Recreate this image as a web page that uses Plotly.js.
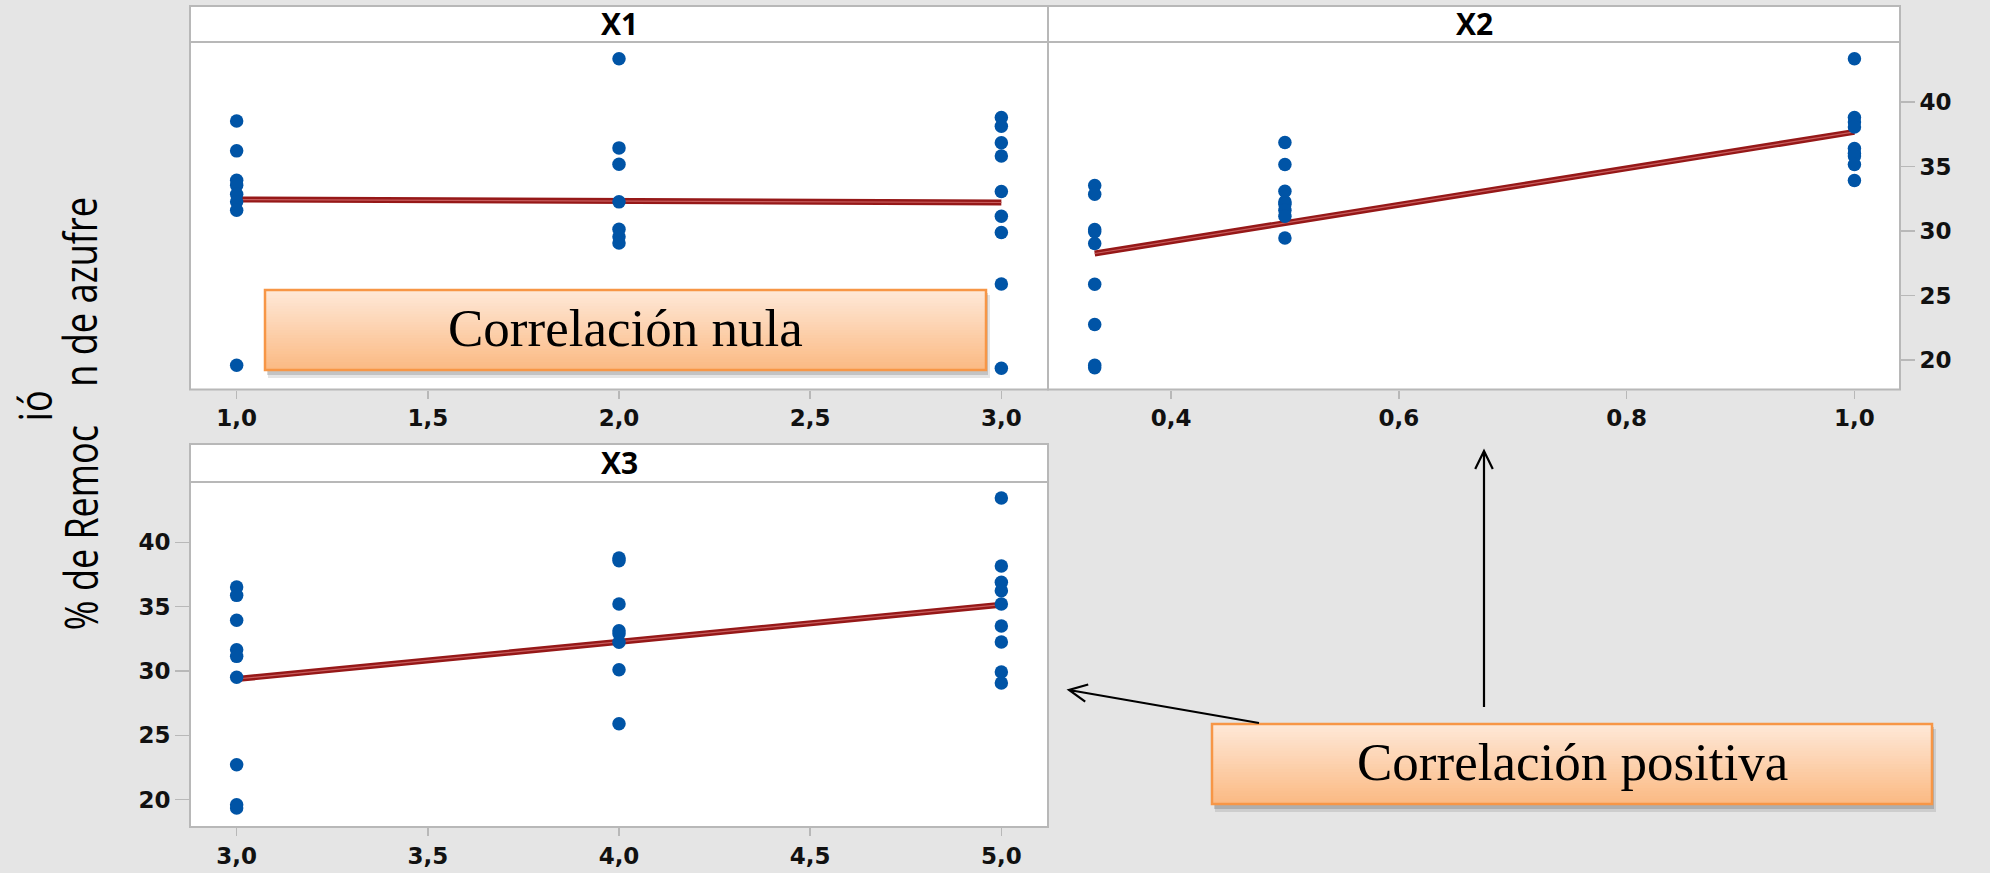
<!DOCTYPE html>
<html>
<head>
<meta charset="utf-8">
<script src="https://cdn.plot.ly/plotly-3.0.1.min.js"></script>
<style>
html,body{margin:0;padding:0;background:#e5e5e5;}
#chart{width:1990px;height:873px;}
</style>
</head>
<body>
<div id="chart"></div>
<script>
// ---------- DATA ----------
const panelTitles = ["X1", "X2", "X3"];

// Panel X1: levels 1, 2, 3
const x1Levels = [1, 2, 3];
const yX1_lvl1 = [38.53, 36.21, 33.94, 33.55, 32.85, 32.26, 31.61, 19.61];
const yX1_lvl2 = [43.35, 36.44, 35.18, 32.26, 30.14, 29.55, 29.08];
const yX1_lvl3 = [38.79, 38.12, 36.83, 35.82, 33.06, 31.15, 29.88, 25.90, 19.38];
const fitX1_x = [1, 3];
const fitX1_y = [32.44, 32.21];

// Panel X2: levels 1/3, 0.5, 1.0
const x2Levels = [0.333, 0.5, 1.0];
const yX2_lvl1 = [33.52, 32.85, 30.12, 29.94, 29.03, 25.88, 22.76, 19.61, 19.41];
const yX2_lvl2 = [36.85, 35.15, 33.08, 32.26, 32.08, 31.61, 31.15, 29.47];
const yX2_lvl3 = [43.35, 38.79, 38.45, 38.06, 36.39, 36.00, 35.82, 35.15, 33.91];
const fitX2_x = [0.333, 1.0];
const fitX2_y = [28.26, 37.68];

// Panel X3: levels 3, 4, 5
const x3Levels = [3, 4, 5];
const yX3_lvl1 = [36.53, 35.88, 33.94, 31.66, 31.14, 29.51, 22.72, 19.61, 19.35];
const yX3_lvl2 = [38.78, 38.58, 35.21, 33.13, 32.90, 32.23, 30.10, 25.91];
const yX3_lvl3 = [43.45, 38.16, 36.89, 36.24, 35.21, 33.50, 32.25, 29.92, 29.07];
const fitX3_x = [3, 5];
const fitX3_y = [29.38, 35.16];

const yTicks = [20, 25, 30, 35, 40];
const x1Ticks = [1.0, 1.5, 2.0, 2.5, 3.0];
const x2Ticks = [0.4, 0.6, 0.8, 1.0];
const x3Ticks = [3.0, 3.5, 4.0, 4.5, 5.0];

const yTitleA = "% de Remoc";
const yTitleB = "n de azufre";
const yTitleMid = "ió";
const calloutNull = "Correlación nula";
const calloutPos = "Correlación positiva";

// ---------- helpers ----------
const W = 1990, H = 873;
const px = x => x / W;
const py = y => 1 - y / H;

const DOT = '#0054a6';
function dots(levels, groups, xa, ya) {
  const xs = [], ys = [];
  groups.forEach((g, i) => g.forEach(v => { xs.push(levels[i]); ys.push(v); }));
  return {type: 'scatter', mode: 'markers', x: xs, y: ys, xaxis: xa, yaxis: ya,
          marker: {color: DOT, size: 13.5, line: {width: 0}}, hoverinfo: 'skip', showlegend: false};
}
function fit(xv, yv, xa, ya) {
  return [
    {type: 'scatter', mode: 'lines', x: xv, y: yv, xaxis: xa, yaxis: ya,
     line: {color: '#961818', width: 6}, hoverinfo: 'skip', showlegend: false},
    {type: 'scatter', mode: 'lines', x: xv, y: yv, xaxis: xa, yaxis: ya,
     line: {color: '#c85e5e', width: 1.2}, hoverinfo: 'skip', showlegend: false}
  ];
}

const data = [
  ...fit(fitX1_x, fitX1_y, 'x', 'y'),
  dots(x1Levels, [yX1_lvl1, yX1_lvl2, yX1_lvl3], 'x', 'y'),
  ...fit(fitX2_x, fitX2_y, 'x2', 'y2'),
  dots(x2Levels, [yX2_lvl1, yX2_lvl2, yX2_lvl3], 'x2', 'y2'),
  ...fit(fitX3_x, fitX3_y, 'x3', 'y3'),
  dots(x3Levels, [yX3_lvl1, yX3_lvl2, yX3_lvl3], 'x3', 'y3'),
];

// ---------- geometry ----------
const L = 190, M = 1048, R = 1900;
const topStrip = [6, 42], topPlotBottom = 389.5;
const botStrip = [444, 482], botPlotBottom = 827;

const tickFont = {family: 'DejaVu Sans', size: 23, color: '#111', weight: 'bold'};
const GRAY = '#b8b8b8';

function xAxis(domain, range, ticks, anchor) {
  return {domain, range, anchor, tickvals: ticks, tickformat: '.1f', ticks: 'outside', ticklen: 8,
          tickcolor: GRAY, tickwidth: 1.5, showline: false, zeroline: false, showgrid: false,
          tickfont: tickFont, fixedrange: true};
}
function yAxis(domain, range, anchor, side, show) {
  return {domain, range, anchor, side, tickvals: yTicks, ticks: show ? 'outside' : '', ticklen: 14,
          tickcolor: GRAY, tickwidth: 1.5, showticklabels: show, showline: false, zeroline: false,
          showgrid: false, tickfont: tickFont, fixedrange: true};
}

const yTopDom = [py(topPlotBottom), py(topStrip[1])];
const yBotDom = [py(botPlotBottom), py(botStrip[1])];
const yRange = [17.73, 44.64];
const yRange3 = [17.88, 44.69];

const shapes = [];
function rect(x0, y0, x1, y1, opts) {
  shapes.push(Object.assign({type: 'rect', xref: 'paper', yref: 'paper',
    x0: px(x0), x1: px(x1), y0: py(y1), y1: py(y0)}, opts));
}
// strips
rect(L, topStrip[0], M, topStrip[1], {fillcolor: '#fff', line: {color: GRAY, width: 2}, layer: 'below'});
rect(M, topStrip[0], R, topStrip[1], {fillcolor: '#fff', line: {color: GRAY, width: 2}, layer: 'below'});
rect(L, botStrip[0], M, botStrip[1], {fillcolor: '#fff', line: {color: GRAY, width: 2}, layer: 'below'});
// panel borders
rect(L, topStrip[0], M, topPlotBottom, {fillcolor: 'rgba(0,0,0,0)', line: {color: GRAY, width: 2}, layer: 'above'});
rect(M, topStrip[0], R, topPlotBottom, {fillcolor: 'rgba(0,0,0,0)', line: {color: GRAY, width: 2}, layer: 'above'});
rect(L, botStrip[0], M, botPlotBottom, {fillcolor: 'rgba(0,0,0,0)', line: {color: GRAY, width: 2}, layer: 'above'});

// gradient callout boxes
function hexToRgb(h){return [1,3,5].map(i=>parseInt(h.substr(i,2),16));}
function box(x0, y0, x1, y1) {
  rect(x0 + 3, y0 + 5, x1 + 4, y1 + 8, {fillcolor: 'rgba(0,0,0,0.10)', line: {width: 0}, layer: 'above'});
  rect(x0 + 2, y0 + 3, x1 + 2, y1 + 5, {fillcolor: 'rgba(0,0,0,0.15)', line: {width: 0}, layer: 'above'});
  const c0 = hexToRgb('#fee8d7'), c1 = hexToRgb('#fbba84');
  const N = 30;
  for (let i = 0; i < N; i++) {
    const t = i / (N - 1);
    const c = c0.map((v, k) => Math.round(v + (c1[k] - v) * t));
    const ya = y0 + (y1 - y0) * i / N, yb = y0 + (y1 - y0) * (i + 1) / N + 0.6;
    rect(x0, ya, x1, yb, {fillcolor: `rgb(${c.join(',')})`, line: {width: 0}, layer: 'above'});
  }
  rect(x0, y0, x1, y1, {fillcolor: 'rgba(0,0,0,0)', line: {color: '#f79646', width: 2.5}, layer: 'above'});
}
box(265, 290, 986, 370);
box(1212, 724, 1932, 804);

// arrows with open chevron heads
function arrow(xt, yt, xh, yh) {
  const dx = xh - xt, dy = yh - yt, len = Math.hypot(dx, dy);
  const rx = -dx / len, ry = -dy / len, a = 26 * Math.PI / 180, hl = 20;
  const p1 = [xh + hl * (rx * Math.cos(a) - ry * Math.sin(a)), yh + hl * (rx * Math.sin(a) + ry * Math.cos(a))];
  const p2 = [xh + hl * (rx * Math.cos(-a) - ry * Math.sin(-a)), yh + hl * (rx * Math.sin(-a) + ry * Math.cos(-a))];
  const P = (p) => `${px(p[0])},${py(p[1])}`;
  shapes.push({type: 'path', xref: 'paper', yref: 'paper', layer: 'above',
    path: `M${P([xt, yt])} L${P([xh, yh])} M${P(p1)} L${P([xh, yh])} L${P(p2)}`,
    line: {color: '#000', width: 2.2}});
}
arrow(1484, 707, 1484, 451);
arrow(1259, 723, 1069, 690);

// ---------- annotations ----------
const ann = [];
function label(text, x, y, font, extra) {
  ann.push(Object.assign({text, x: px(x), y: py(y), xref: 'paper', yref: 'paper', showarrow: false,
    xanchor: 'center', yanchor: 'middle', font}, extra || {}));
}
const stripFont = {family: 'Open Sans', size: 30, color: '#000', weight: 'bold'};
label(panelTitles[0], (L + M) / 2, 23, stripFont);
label(panelTitles[1], (M + R) / 2, 23, stripFont);
label(panelTitles[2], (L + M) / 2, 462, stripFont);

const calloutFont = {family: 'Liberation Serif', size: 53, color: '#000'};
label(calloutNull, 625, 328, calloutFont);
label(calloutPos, 1572, 762, calloutFont);

// y-axis title pieces (condensed look: tall glyphs, narrowed along the text run after render)
const titleFont = {family: 'Open Sans', size: 45, color: '#000'};
label(yTitleA, 80, 528, titleFont, {textangle: -90});
label(yTitleB, 80, 292, titleFont, {textangle: -90});
label(yTitleMid, 34, 406, titleFont, {textangle: -90});
const runTargets = {};
runTargets[yTitleA] = 205;
runTargets[yTitleB] = 190;

const layout = {
  width: W, height: H,
  margin: {l: 0, r: 0, t: 0, b: 0},
  paper_bgcolor: '#e5e5e5', plot_bgcolor: '#ffffff',
  separators: ',.',
  showlegend: false,
  xaxis: xAxis([px(L), px(M)], [0.878, 3.122], x1Ticks, 'y'),
  yaxis: yAxis(yTopDom, yRange, 'x', 'left', false),
  xaxis2: xAxis([px(M), px(R)], [0.292, 1.040], x2Ticks, 'y2'),
  yaxis2: yAxis(yTopDom, yRange, 'x2', 'right', true),
  xaxis3: xAxis([px(L), px(M)], [2.878, 5.122], x3Ticks, 'y3'),
  yaxis3: yAxis(yBotDom, yRange3, 'x3', 'left', true),
  shapes, annotations: ann
};

Plotly.newPlot('chart', data, layout, {displayModeBar: false, staticPlot: true}).then(gd => {
  try {
    const texts = gd.querySelectorAll('g.annotation text.annotation-text');
    let scales = [];
    texts.forEach(t => {
      const tgt = runTargets[t.textContent];
      if (!tgt) return;
      const bb = t.getBBox();
      if (!bb.width) return;
      const s = tgt / bb.width;
      scales.push(s);
      const cx = bb.x + bb.width / 2;
      const prev = t.getAttribute('transform') || '';
      t.setAttribute('transform', `${prev} translate(${cx},0) scale(${s},1) translate(${-cx},0)`);
    });
    const sMid = scales.length ? scales.reduce((a, b) => a + b, 0) / scales.length : 1;
    texts.forEach(t => {
      if (t.textContent !== yTitleMid) return;
      const bb = t.getBBox();
      const cx = bb.x + bb.width / 2;
      const prev = t.getAttribute('transform') || '';
      t.setAttribute('transform', `${prev} translate(${cx},0) scale(${sMid},1) translate(${-cx},0)`);
    });
  } catch (e) { /* keep default rendering */ }
});
</script>
</body>
</html>
